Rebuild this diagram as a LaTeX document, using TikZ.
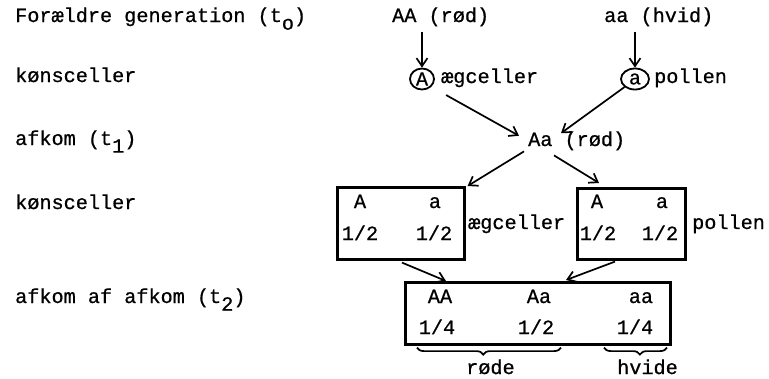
\documentclass[tikz,border=0pt]{standalone}
\usepackage{fontspec}
\setmainfont[FakeBold=0.7]{Liberation Mono}
\usetikzlibrary{arrows.meta,decorations.pathreplacing,calc,shapes.geometric}
\newcommand\lowsub[1]{\raisebox{-0.38em}{#1}}
\begin{document}
\begin{tikzpicture}[x=1pt,y=-1pt,
  every node/.style={font=\fontsize{20.2}{24}\selectfont},
  txt/.style={anchor=base west, inner sep=0pt},
  ctxt/.style={anchor=base, inner sep=0pt},
  box/.style={draw, line width=2.6pt, inner sep=0pt, anchor=north west},
  ring/.style={draw, ellipse, line width=1.8pt, inner sep=0pt},
  arr/.style={line width=1.7pt, -{Straight Barb[length=8pt,width=11pt,line width=1.7pt]}},
  brc/.style={line width=1.7pt, decorate, decoration={brace, amplitude=7pt, aspect=#1}}]
\useasboundingbox (0,0) rectangle (769,378);

% left labels
\node[txt] (L1) at (15,22) {Forældre generation (t\lowsub{o})};
\node[txt] (L2) at (15,82) {kønsceller};
\node[txt] (L3) at (15,145) {afkom (t\lowsub{1})};
\node[txt] (L4) at (15,209) {kønsceller};
\node[txt] (L5) at (15,303) {afkom af afkom (t\lowsub{2})};

% parents
\node[txt] (P1) at (392,22) {AA (rød)};
\node[txt] (P2) at (604,22) {aa (hvid)};

% gametes
\node[ring, minimum width=24pt, minimum height=21pt] (cA) at (422,79) {A};
\node[ring, minimum width=28pt, minimum height=21pt] (ca) at (635,79) {a};
\node[txt] (G1) at (441,83) {ægceller};
\node[txt] (G2) at (654,83) {pollen};

% F1
\node[txt] (F1) at (528,146) {Aa (rød)};

% gamete boxes
\node[box, minimum width=127pt, minimum height=72pt] (LB) at (336,186) {};
\node[box, minimum width=108pt, minimum height=71pt] (RB) at (576,187) {};
\node[ctxt] (LB1) at (360,208) {A};
\node[ctxt] (LB2) at (435,208) {a};
\node[ctxt] (LB3) at (360,240) {1/2};
\node[ctxt] (LB4) at (434,240) {1/2};
\node[ctxt] (RB1) at (597,208) {A};
\node[ctxt] (RB2) at (662,208) {a};
\node[ctxt] (RB3) at (598,240) {1/2};
\node[ctxt] (RB4) at (660,240) {1/2};
\node[txt] (G3) at (468,229) {ægceller};
\node[txt] (G4) at (692,229) {pollen};

% F2 box
\node[box, minimum width=265pt, minimum height=62pt] (BB) at (404,281) {};
\node[ctxt] (B1) at (440,303) {AA};
\node[ctxt] (B2) at (539,303) {Aa};
\node[ctxt] (B3) at (641,303) {aa};
\node[ctxt] (B4) at (437,334) {1/4};
\node[ctxt] (B5) at (536,334) {1/2};
\node[ctxt] (B6) at (635,334) {1/4};

\node[txt] (R1) at (466,374) {røde};
\node[txt] (R2) at (617,374) {hvide};

% arrows
\draw[arr, shorten <=6pt] (cA.north |- P1.south) -- (cA.north);
\draw[arr, shorten <=6pt] (ca.north |- P2.south) -- (ca.north);
\draw[arr] ($(cA.south east)+(15,8)$) -- ($(F1.west)+(-9,-5)$);
\draw[arr] (ca.south west) -- ($(F1.north west)+(33,2)$);
\draw[arr] ($(F1.south west)+(-4,1)$) -- ($(LB.north east)+(2,0)$);
\draw[arr] ($(F1.south west)+(26,5)$) -- ($(RB.north west)+(23,-4)$);
\draw[arr] ($(LB.south west)+(66,2)$) -- ($(BB.north west)+(42,0)$);
\draw[arr] ($(RB.south west)+(39,1)$) -- ($(BB.north west)+(162,-1)$);

% braces
\draw[brc=0.54] ($(BB.south west)+(157,2)$) -- ($(BB.south west)+(13,2)$);
\draw[brc=0.43] ($(BB.south west)+(263,2)$) -- ($(BB.south west)+(200,2)$);
\end{tikzpicture}
\end{document}
